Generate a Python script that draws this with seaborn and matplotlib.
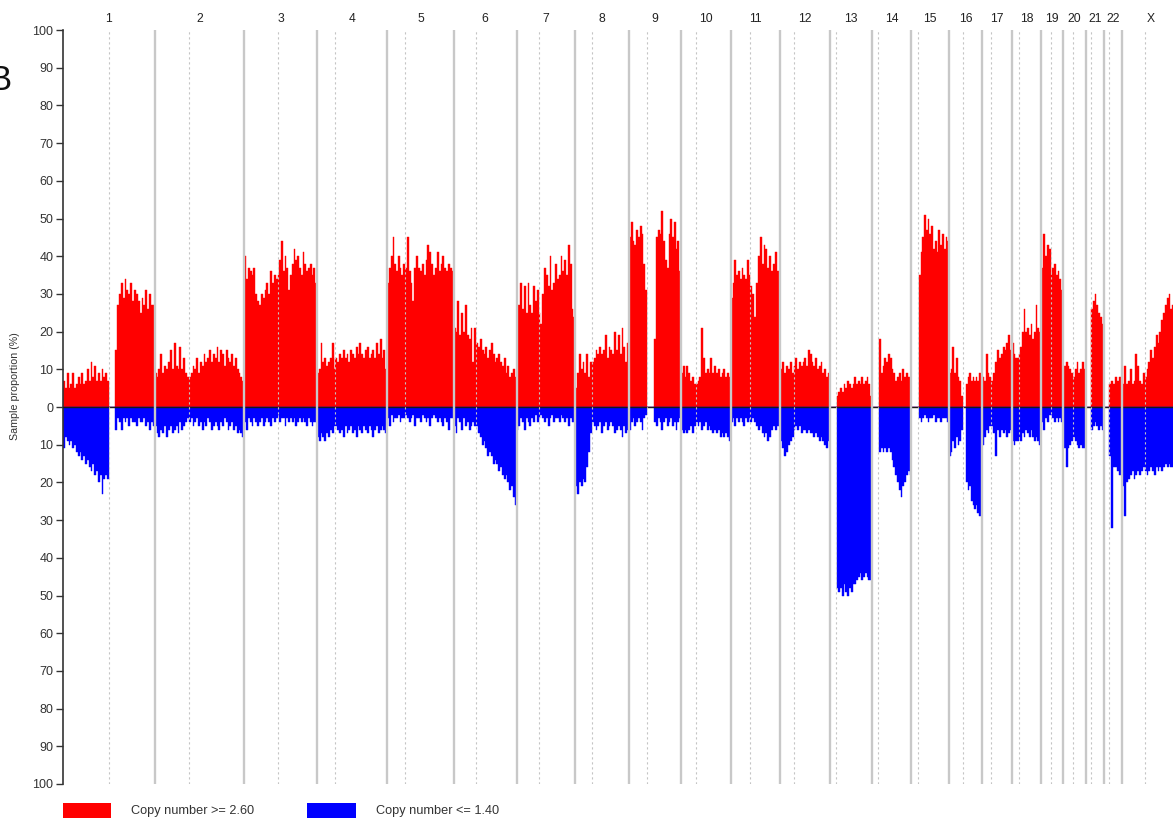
import numpy as np
import pandas as pd
import matplotlib
matplotlib.use("Agg")
import matplotlib.pyplot as plt
from matplotlib.patches import Rectangle
import seaborn as sns

# ---------------- data ----------------
chrom_names = ["1", "2", "3", "4", "5", "6", "7", "8", "9", "10", "11", "12",
               "13", "14", "15", "16", "17", "18", "19", "20", "21", "22", "X"]
chrom_lengths = [249.25, 243.20, 198.02, 191.15, 180.92, 171.12, 159.14, 146.36,
                 141.21, 135.53, 135.01, 133.85, 115.17, 107.35, 102.53, 90.35,
                 81.20, 78.08, 59.13, 63.03, 48.13, 51.30, 155.27]
centromeres = [125.0, 93.3, 91.0, 50.4, 48.4, 61.0, 59.9, 45.6, 49.0, 40.2, 53.7,
               35.8, 17.9, 17.6, 19.0, 36.6, 24.0, 17.2, 26.5, 27.5, 13.2, 14.7, 60.6]
q_starts = [142.0, 93.3, 91.0, 50.4, 48.4, 61.0, 59.9, 45.6, 69.0, 40.2, 53.7,
            35.8, 19.0, 19.0, 20.0, 46.0, 24.0, 17.2, 26.5, 27.5, 14.3, 16.0, 60.6]
p_counts = [25, 18, 18, 10, 10, 12, 12, 9, 10, 8, 11, 7, 0, 0, 0, 8, 5, 4, 5, 6, 0, 0, 12]

chr1_gain = [7,5,9,5,6,9,5,6,8,6,9,6,7,10,7,12,8,11,7,9,7,10,8,9,7,
             15,27,30,33,29,34,31,30,33,28,31,30,28,25,29,27,31,26,30,27,27]
chr1_loss = [11,8,9,10,9,11,10,12,13,12,14,13,15,14,16,17,15,18,17,20,18,23,19,18,19,
             6,3,4,6,3,4,3,5,3,4,4,5,3,4,4,3,5,4,6,4,5]
chr2_gain = [9,8,10,14,9,11,10,12,15,10,17,11,10,16,10,13,9,8,
             8,9,11,10,13,9,12,11,14,12,13,15,12,14,13,16,12,15,14,11,15,13,12,14,11,13,10,9,8,7]
chr2_loss = [5,7,8,6,7,5,8,6,5,7,6,5,7,4,6,5,4,3,
             4,3,5,4,3,5,4,6,4,5,3,4,6,5,4,5,6,4,5,3,4,6,5,4,6,5,7,6,7,8]
chr3_gain = [40,34,37,36,35,37,30,28,27,30,29,31,33,30,36,33,35,34,
             35,39,44,36,40,37,31,35,38,42,39,40,37,35,41,38,36,37,38,35,37,33]
chr3_loss = [4,6,3,4,5,3,4,5,4,3,5,4,3,4,5,3,4,3,
             2,4,3,3,5,3,4,3,4,3,5,4,3,4,3,4,5,3,4,5,4,4]
chr4_gain = [9,10,17,12,13,11,12,13,17,10,
             13,12,14,13,15,13,14,12,15,14,13,16,14,17,14,13,15,16,13,14,15,13,17,14,18,13,15,10]
chr4_loss = [8,9,7,8,9,7,8,6,7,5,
             5,6,7,6,8,5,7,6,5,7,6,8,5,6,7,5,6,7,5,6,8,6,5,7,6,5,6,7]
chr5_gain = [33,37,40,45,38,36,40,37,35,38,
             37,45,36,33,28,37,40,37,36,38,35,39,43,41,38,35,37,41,36,38,40,37,36,38,37,36]
chr5_loss = [3,5,2,4,3,3,2,4,3,3,
             2,3,4,3,2,5,3,3,4,2,3,4,3,5,3,2,3,4,3,4,5,3,4,6,3,3]
chr6_gain = [21,20,28,19,25,20,27,19,18,21,12,21,
             17,16,18,15,14,16,13,15,17,14,12,13,14,12,11,13,9,11,8,9,10,8]
chr6_loss = [5,7,3,4,6,3,5,4,6,5,4,5,
             5,7,8,10,9,11,13,12,13,15,14,15,17,16,18,19,18,20,22,21,24,26]
chr7_gain = [22,27,33,26,32,25,33,27,25,32,28,31,
             25,22,30,37,35,32,40,31,33,38,34,35,40,36,39,35,43,38,26,24]
chr7_loss = [6,5,3,4,6,3,4,5,3,4,2,4,
             3,2,3,4,3,5,3,2,4,3,3,4,2,3,4,3,5,3,4,4]
chr8_gain = [5,9,14,10,12,9,14,8,12,
             12,13,15,14,16,14,15,19,13,16,15,14,20,15,19,14,21,16,12,17]
chr8_loss = [21,23,20,21,19,20,16,12,7,
             4,5,6,5,4,7,5,4,6,5,4,5,7,6,5,6,8,5,7,6]
chr9_gain = [45,49,44,43,47,45,48,46,38,31,
             18,45,47,46,52,44,39,37,46,50,45,49,42,44,36]
chr9_loss = [6,4,3,5,4,3,4,6,3,2,
             4,5,3,4,6,4,3,5,4,3,5,4,6,4,3]
chr10_gain = [9,11,8,11,9,7,8,6,
              6,7,8,21,13,9,10,9,13,9,11,9,10,8,9,10,8,9,8]
chr10_loss = [6,7,6,7,6,5,7,5,
              4,5,4,6,5,4,6,5,6,7,6,7,6,8,7,8,7,8,9]
chr11_gain = [29,33,39,35,36,34,37,35,34,39,35,
              32,30,24,33,40,45,38,43,42,37,40,36,38,41,36,35]
chr11_loss = [4,3,5,3,4,3,4,5,3,4,3,
              4,3,4,5,6,5,7,8,7,9,8,6,5,6,5,4]
chr12_gain = [10,12,9,11,10,12,9,
              11,13,10,12,11,12,13,11,15,14,12,11,13,10,11,12,9,10,8,9]
chr12_loss = [9,11,13,12,10,9,8,
              6,5,6,5,7,6,6,7,6,7,7,8,7,8,9,8,9,10,11,9]
chr13_gain = [3,4,5,4,6,5,7,6,5,6,8,6,7,6,8,6,7,8,6,3]
chr13_loss = [48,49,48,50,47,49,50,48,49,47,47,46,45,44,46,45,44,45,46,46]
chr14_gain = [18,9,11,13,12,14,13,10,9,7,8,9,7,10,8,9,8,7]
chr14_loss = [12,11,12,11,12,11,12,14,16,18,20,22,24,21,20,18,17,18]
chr15_gain = [35,41,45,51,47,50,46,48,42,44,41,47,43,46,42,45,44]
chr15_loss = [3,4,3,2,3,4,3,3,2,4,3,3,4,3,3,3,4]
chr16_gain = [9,10,16,9,13,8,7,3,
              6,8,9,7,8,7,8,7,9,7]
chr16_loss = [13,12,9,11,8,10,9,6,
              20,22,21,25,26,27,26,28,29,27]
chr17_gain = [8,7,14,9,8,
              7,9,12,15,13,14,16,15,17,19,15]
chr17_loss = [10,8,6,7,5,
              5,7,13,6,8,6,7,6,8,7,6]
chr18_gain = [17,14,13,13,
              14,16,20,26,20,21,19,22,18,20,27,21,20]
chr18_loss = [9,10,9,9,
              8,9,7,8,6,7,8,6,8,9,8,9,10]
chr19_gain = [37,46,40,43,42,
              35,37,38,35,36,34,31]
chr19_loss = [4,6,3,4,2,
              2,3,4,3,4,3,4]
chr20_gain = [9,11,12,11,10,9,
              8,10,12,9,10,12,10]
chr20_loss = [10,11,16,11,10,9,
              8,9,10,11,10,11,11]
chr21_gain = [26,28,30,27,25,24,22]
chr21_loss = [6,5,4,5,6,5,6]
chr22_gain = [6,7,6,8,7,8,7]
chr22_loss = [13,32,16,16,17,18,17]
chrX_gain = [6,11,6,7,10,6,7,14,11,7,6,9,
             8,10,12,15,13,16,19,17,20,23,25,27,29,30,26,27,25,27,26]
chrX_loss = [21,29,20,19,18,17,19,18,17,18,17,16,
             17,18,17,16,17,18,16,17,16,17,16,15,16,15,16,16,15,16,16]

gain_lists = [chr1_gain, chr2_gain, chr3_gain, chr4_gain, chr5_gain, chr6_gain,
              chr7_gain, chr8_gain, chr9_gain, chr10_gain, chr11_gain, chr12_gain,
              chr13_gain, chr14_gain, chr15_gain, chr16_gain, chr17_gain, chr18_gain,
              chr19_gain, chr20_gain, chr21_gain, chr22_gain, chrX_gain]
loss_lists = [chr1_loss, chr2_loss, chr3_loss, chr4_loss, chr5_loss, chr6_loss,
              chr7_loss, chr8_loss, chr9_loss, chr10_loss, chr11_loss, chr12_loss,
              chr13_loss, chr14_loss, chr15_loss, chr16_loss, chr17_loss, chr18_loss,
              chr19_loss, chr20_loss, chr21_loss, chr22_loss, chrX_loss]

legend_labels = ["Copy number >= 2.60", "Copy number <= 1.40"]
ytick_values = list(range(-100, 101, 10))

# ---------------- layout helpers ----------------
offsets = np.concatenate([[0.0], np.cumsum(chrom_lengths)[:-1]])
total_len = float(np.sum(chrom_lengths))


def build(series_lists, sign):
    edges, centers, vals = [], [], []
    for ci, values in enumerate(series_lists):
        off = offsets[ci]
        npc = p_counts[ci]
        pv, qv = values[:npc], values[npc:]
        if npc:
            e = np.linspace(0, centromeres[ci], npc + 1) + off
            edges.extend(e)
            centers.extend((e[:-1] + e[1:]) / 2)
            vals.extend(pv)
        e = np.linspace(q_starts[ci], chrom_lengths[ci], len(qv) + 1) + off
        edges.extend(e)
        centers.extend((e[:-1] + e[1:]) / 2)
        vals.extend(qv)
    edges = np.unique(np.round(np.array(edges + [0.0, total_len]), 6))
    df = pd.DataFrame({"pos": centers, "value": sign * np.array(vals, float)})
    return df, [float(v) for v in edges]


gain_df, gain_edges = build(gain_lists, 1)
loss_df, loss_edges = build(loss_lists, -1)

# ---------------- figure ----------------
sns.set_style("white")
plt.rcParams["font.family"] = ["Liberation Sans", "DejaVu Sans"]

W, H = 1173, 819
fig = plt.figure(figsize=(W / 100, H / 100), dpi=100)
ax_left, ax_right = 63, 1179.5
ax_top, ax_bot = 30, 784
ax = fig.add_axes([ax_left / W, (H - ax_bot) / H, (ax_right - ax_left) / W, (ax_bot - ax_top) / H])

red, blue = "#ff0000", "#0000ff"
sns.histplot(data=gain_df, x="pos", weights="value", bins=gain_edges, ax=ax,
             color=red, alpha=1, element="bars", edgecolor=red, linewidth=0.3, zorder=2)
sns.histplot(data=loss_df, x="pos", weights="value", bins=loss_edges, ax=ax,
             color=blue, alpha=1, element="bars", edgecolor=blue, linewidth=0.3, zorder=2)

ax.set_xlim(0, total_len)
ax.set_ylim(-100, 100)

# zero line
ax.axhline(0, color="#1a1a1a", lw=1.0, zorder=3)

# chromosome boundaries and centromeres
for ci in range(len(chrom_names)):
    if ci > 0:
        ax.axvline(offsets[ci], color="#c8c8c8", lw=1.7, zorder=4)
    ax.axvline(offsets[ci] + centromeres[ci], color="#c4c4c4", lw=0.8,
               ls=(0, (2, 2.5)), zorder=4)
    ax.text(offsets[ci] + chrom_lengths[ci] / 2, 102.9, chrom_names[ci],
            ha="center", va="center", fontsize=8.7, color="#222222", clip_on=False)

# axes styling
for s in ["top", "right", "bottom"]:
    ax.spines[s].set_visible(False)
ax.spines["left"].set_color("#333333")
ax.spines["left"].set_linewidth(1.2)
ax.set_xticks([])
ax.set_yticks(ytick_values)
ax.set_yticklabels([str(abs(v)) for v in ytick_values])
ax.tick_params(axis="y", direction="out", length=5, width=1, color="#333333",
               labelsize=9, labelcolor="#333333", pad=2, left=True)
ax.set_xlabel("")
ax.set_ylabel("Sample proportion (%)", fontsize=7.7, color="#333333")
ax.yaxis.set_label_coords(-(ax_left - 20) / (ax_right - ax_left), (ax_bot - 386) / (ax_bot - ax_top))

# legend
fig.add_artist(Rectangle((63 / W, 1 / H), 48 / W, 15 / H, transform=fig.transFigure,
                         facecolor=red, edgecolor="none"))
fig.text(131 / W, (H - 811) / H, legend_labels[0], fontsize=9.2, va="center",
         ha="left", color="#333333")
fig.add_artist(Rectangle((307 / W, 1 / H), 49 / W, 15 / H, transform=fig.transFigure,
                         facecolor=blue, edgecolor="none"))
fig.text(376 / W, (H - 811) / H, legend_labels[1], fontsize=9.2, va="center",
         ha="left", color="#333333")

# panel letter (cropped at the left edge, as in the source figure)
fig.text(-12 / W, (H - 80) / H, "B", fontsize=25, va="center", ha="left", color="#111111")

fig.savefig("out.png", dpi=100)
